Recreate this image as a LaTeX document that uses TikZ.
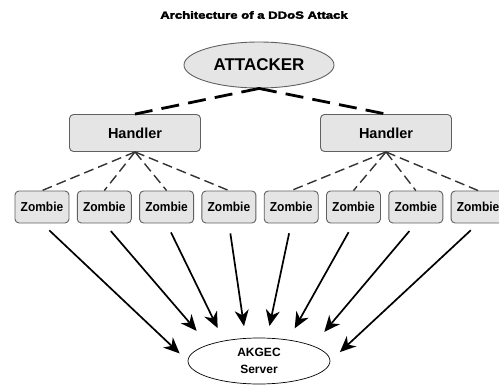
\documentclass[tikz,border=0pt]{standalone}
\usepackage{graphicx}
\usepackage{fontspec}
\setsansfont{Liberation Sans}
\newfontfamily\titlefont[FakeBold=2.5]{Liberation Sans Bold}
\usetikzlibrary{arrows.meta,shapes.geometric,positioning}

\begin{document}
\begin{tikzpicture}[x=1pt,y=-1pt,node distance=62.3pt,
                    font=\sffamily\bfseries]
  \tikzstyle{box}=[draw=gray!75!black,fill=gray!20,line width=0.9pt,
                   rounded corners=4pt,inner sep=1pt]
  \tikzstyle{zombie}=[box,minimum width=54pt,minimum height=32pt,
                      font=\sffamily\bfseries\fontsize{13}{14}\selectfont]
  \tikzstyle{handler}=[box,minimum width=131pt,minimum height=37pt,
                       font=\sffamily\bfseries\fontsize{14.5}{16}\selectfont]
  \tikzstyle{command}=[line width=2.8pt,dash pattern=on 18pt off 9.2pt]
  \tikzstyle{control}=[line width=1.4pt,dash pattern=on 10pt off 5pt,draw=black!80]
  \tikzstyle{flood}=[line width=1.7pt,-{Stealth[length=16pt,width=14pt,inset=5pt]},
                     shorten <=10pt]

  \useasboundingbox (0,0) rectangle (499,386);

  \node (title) at (254,15) {\titlefont\fontsize{10.5}{12}\selectfont\scalebox{1.25}[1]{Architecture of a DDoS Attack}};
  \node[ellipse,draw=gray!75!black,fill=gray!20,line width=0.9pt,
        minimum width=150pt,minimum height=46pt,
        font=\sffamily\bfseries\fontsize{17}{18}\selectfont] (A) at (259,65) {ATTACKER};
  \node[handler] (H1) at (135,133) {Handler};
  \node[handler] (H2) at (386,133) {Handler};

  \node[zombie] (Z1) at (42,207) {\scalebox{0.92}[1]{Zombie}};
  \node[zombie] (Z2) [right of=Z1] {\scalebox{0.92}[1]{Zombie}};
  \node[zombie] (Z3) [right of=Z2] {\scalebox{0.92}[1]{Zombie}};
  \node[zombie] (Z4) [right of=Z3] {\scalebox{0.92}[1]{Zombie}};
  \node[zombie] (Z5) [right of=Z4] {\scalebox{0.92}[1]{Zombie}};
  \node[zombie] (Z6) [right of=Z5] {\scalebox{0.92}[1]{Zombie}};
  \node[zombie] (Z7) [right of=Z6] {\scalebox{0.92}[1]{Zombie}};
  \node[zombie] (Z8) [right of=Z7] {\scalebox{0.92}[1]{Zombie}};

  \node[ellipse,draw,fill=white,line width=0.7pt,minimum width=142pt,
        minimum height=46pt,align=center,
        font=\sffamily\bfseries\fontsize{12}{17}\selectfont] (S) at (259,361) {AKGEC\\Server};

  \draw[command] (A.south) -- (H1.north);
  \draw[command] (A.south) -- (H2.north);
  \foreach \z in {1,...,4}
    \draw[control] (H1.south) -- (Z\z.north);
  \foreach \z in {5,...,8}
    \draw[control] (H2.south) -- (Z\z.north);

  \foreach \z/\a/\s in {1/180/11,2/162/18,3/150/14,4/120/12,5/71/12,6/36/13,7/16/18,8/0/13}
    \draw[flood,shorten >=\s pt] (Z\z.south) -- (S.\a);
\end{tikzpicture}
\end{document}
